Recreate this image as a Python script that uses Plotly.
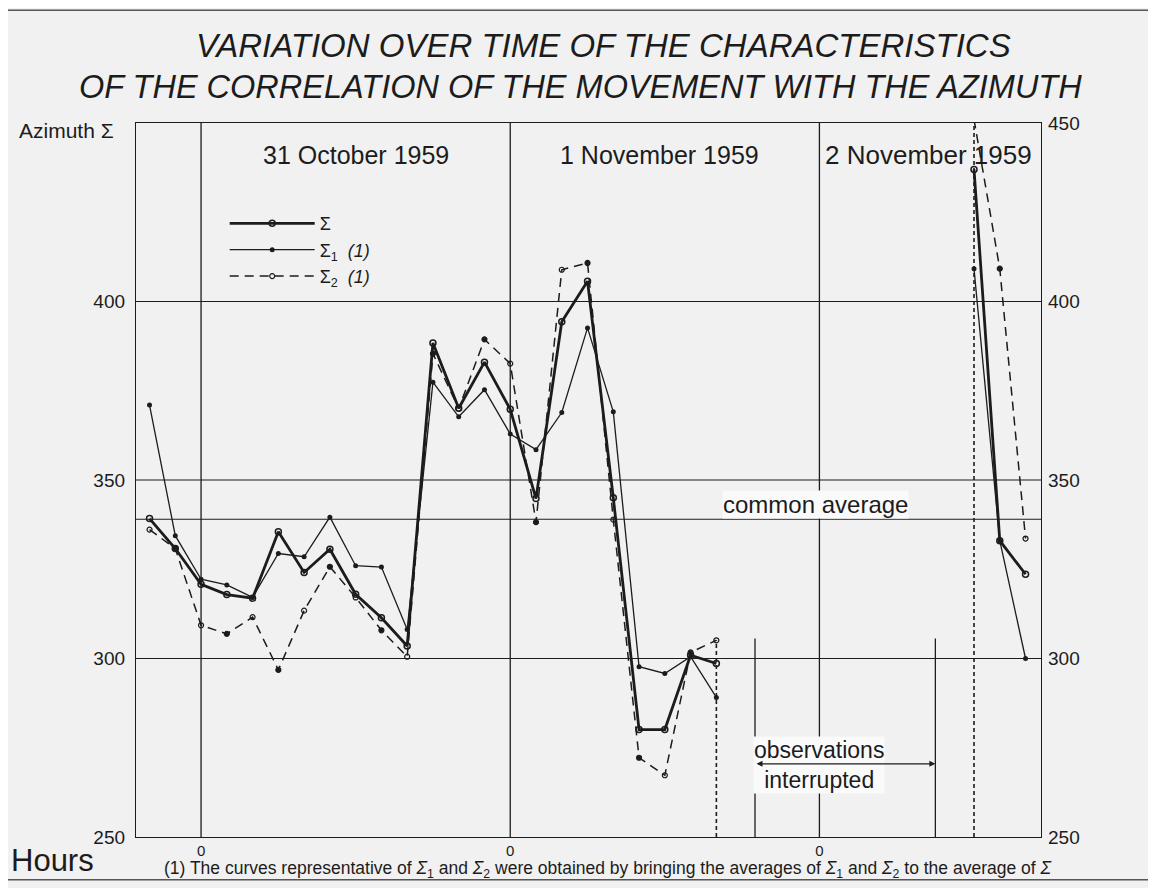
import plotly.graph_objects as go

# ---------------- data (hours from 0 h of 31 October 1959) ----------------
hours = [-4, -2, 0, 2, 4, 6, 8, 10, 12, 14, 16, 18, 20, 22, 24, 26, 28, 30, 32, 34, 36, 38, 40,
         50, 60, 62, 64]
sigma = [339.2, 330.8, 320.8, 317.9, 316.9, 335.5, 324.1, 330.6, 318.0, 311.4, 303.5,
         388.4, 370.1, 383.0, 369.8, 344.8, 394.3, 405.7, 345.0, 280.1, 280.1, 300.9, 298.6,
         None, 437.0, 333.0, 323.6]
sigma1 = [371.0, 334.4, 322.2, 320.6, 317.1, 329.4, 328.5, 339.6, 326.0, 325.6, 308.1,
          377.4, 367.7, 375.3, 362.9, 358.5, 368.9, 392.6, 369.1, 297.7, 295.8, 300.5, 289.1,
          None, 409.2, 333.0, 300.0]
sigma2 = [336.1, 330.8, 309.3, 306.9, 311.6, 296.8, 313.4, 325.7, 317.1, 307.9, 300.5,
          385.4, 370.0, 389.4, 382.6, 338.2, 408.9, 410.8, 338.9, 272.2, 267.3, 301.7, 305.1,
          None, 451.0, 409.2, 333.6]

common_average = 339
day_starts = [0, 24, 48]
day_labels = ["31 October 1959", "1 November 1959", "2 November 1959"]
hour_ticks = [0, 24, 48]
hour_tick_labels = ["0", "0", "0"]
y_left_ticks = [250, 300, 350, 400]
y_right_ticks = [250, 300, 350, 400, 450]
interrupt_start, interrupt_end = 43, 57
last_obs_day2, first_obs_day3 = 40, 60

INK = "#1c1c1c"
BG = "#f1f1f1"
FONT = "Liberation Sans, Arial, sans-serif"
NARROW = "Liberation Sans Narrow, Arial Narrow, Liberation Sans, sans-serif"

fig = go.Figure()

fig.add_trace(go.Scatter(
    x=hours, y=sigma, mode="lines+markers", name="Σ",
    line=dict(color=INK, width=2.8),
    marker=dict(symbol="circle-open", size=6, color=INK, line=dict(width=1.5)),
))
fig.add_trace(go.Scatter(
    x=hours, y=sigma1, mode="lines+markers", name="Σ<sub>1</sub>  <i>(1)</i>",
    line=dict(color=INK, width=1.3),
    marker=dict(symbol="circle", size=5, color=INK),
))
sym2 = ["circle-open" if i % 2 == 0 else "circle" for i in range(len(hours))]
fig.add_trace(go.Scatter(
    x=hours, y=sigma2, mode="lines+markers", name="Σ<sub>2</sub>  <i>(1)</i>",
    line=dict(color=INK, width=1.5, dash="9px,6px"),
    marker=dict(symbol=sym2, size=5, color=INK, line=dict(width=1.2, color=INK)),
))
# empty trace that carries the right-hand axis
fig.add_trace(go.Scatter(x=[None], y=[None], yaxis="y2", showlegend=False, hoverinfo="skip"))

shapes = []
for v in [300, 350, 400, common_average]:
    shapes.append(dict(type="line", xref="paper", x0=0, x1=1, yref="y", y0=v, y1=v,
                       line=dict(color=INK, width=1.2)))
for d in day_starts:
    shapes.append(dict(type="line", xref="x", x0=d, x1=d, yref="paper", y0=0, y1=1,
                       line=dict(color=INK, width=1.3)))
for d in [interrupt_start, interrupt_end]:
    shapes.append(dict(type="line", xref="x", x0=d, x1=d, yref="y", y0=250, y1=305.6,
                       line=dict(color=INK, width=1.3)))
shapes.append(dict(type="line", xref="x", x0=last_obs_day2, x1=last_obs_day2, yref="y",
                   y0=250, y1=305.1, line=dict(color=INK, width=1.6, dash="4px,3px")))
shapes.append(dict(type="line", xref="x", x0=first_obs_day3, x1=first_obs_day3, yref="y",
                   y0=250, y1=451, line=dict(color=INK, width=1.6, dash="4px,3px")))
# outer frame of the page
shapes.append(dict(type="rect", xref="paper", yref="paper", x0=-0.1448, x1=1.1215, y0=-0.060, y1=1.158,
                   line=dict(color="#555", width=1.5)))

annotations = []
annotations.append(dict(xref="paper", yref="paper", x=0.517, y=1.109, showarrow=False,
                        text="<i>VARIATION OVER TIME OF THE CHARACTERISTICS</i>",
                        font=dict(family=FONT, size=33, color=INK), xanchor="center", yanchor="middle"))
annotations.append(dict(xref="paper", yref="paper", x=0.491, y=1.05, showarrow=False,
                        text="<i>OF THE CORRELATION OF THE MOVEMENT WITH THE AZIMUTH</i>",
                        font=dict(family=FONT, size=32.5, color=INK), xanchor="center", yanchor="middle"))
annotations.append(dict(xref="x", yref="y", x=12, y=441, text=day_labels[0], showarrow=False,
                        font=dict(family=FONT, size=25, color=INK)))
annotations.append(dict(xref="x", yref="y", x=35.6, y=441, text=day_labels[1], showarrow=False,
                        font=dict(family=FONT, size=25, color=INK)))
annotations.append(dict(xref="x", yref="y", x=48.3, y=441, text=day_labels[2], showarrow=False,
                        xanchor="left", font=dict(family=FONT, size=26, color=INK)))
annotations.append(dict(xref="x", yref="y", x=47.7, y=343.2, text="common average", showarrow=False,
                        bgcolor="#fafafa", borderpad=0,
                        font=dict(family=FONT, size=24, color=INK)))
annotations.append(dict(xref="x", yref="y", x=48, y=270.3, text="observations<br>interrupted",
                        showarrow=False, bgcolor="#fafafa", borderpad=0,
                        font=dict(family=FONT, size=23, color=INK)))
annotations.append(dict(xref="x", yref="y", x=interrupt_end, y=270.5, ax=interrupt_start, ay=270.5,
                        axref="x", ayref="y", text="", showarrow=True, arrowside="end+start",
                        arrowhead=2, arrowsize=1, arrowwidth=1.2, arrowcolor=INK))
annotations.append(dict(xref="paper", yref="paper", x=-0.131, y=0.99, text="Azimuth Σ",
                        showarrow=False, xanchor="left", yanchor="middle",
                        font=dict(family=FONT, size=21, color=INK)))
annotations.append(dict(xref="paper", yref="paper", x=-0.140, y=-0.033, text="Hours",
                        showarrow=False, xanchor="left", yanchor="middle",
                        font=dict(family=FONT, size=31, color=INK)))
annotations.append(dict(xref="paper", yref="paper", x=0.029, y=-0.045,
                        text="(1) The curves representative of <i>Σ</i><sub>1</sub> and <i>Σ</i><sub>2</sub> were obtained by bringing the averages of <i>Σ</i><sub>1</sub> and <i>Σ</i><sub>2</sub> to the average of <i>Σ</i>",
                        showarrow=False, xanchor="left", yanchor="middle",
                        font=dict(family=NARROW, size=17.5, color=INK)))

fig.update_layout(
    width=1156, height=888,
    margin=dict(l=128, r=123, t=115, b=59),
    paper_bgcolor=BG, plot_bgcolor=BG,
    font=dict(family=FONT, color=INK),
    shapes=shapes, annotations=annotations,
    showlegend=True,
    legend=dict(x=0.098, y=0.885, xanchor="left", yanchor="top", bgcolor="rgba(0,0,0,0)",
                itemwidth=85, font=dict(family=FONT, size=18, color=INK), tracegroupgap=0),
    xaxis=dict(range=[-5.05, 65.2], tickvals=hour_ticks, ticktext=hour_tick_labels,
               showgrid=False, zeroline=False, showline=True, mirror=True, linecolor=INK,
               linewidth=1.3, ticks="", tickfont=dict(size=15, color=INK)),
    yaxis=dict(range=[250, 450], tickvals=y_left_ticks, showgrid=False, zeroline=False,
               showline=True, mirror=True, linecolor=INK, linewidth=1.3, ticks="",
               ticklabelstandoff=6, tickfont=dict(size=19, color=INK)),
    yaxis2=dict(range=[250, 450], tickvals=y_right_ticks, overlaying="y", side="right",
                showgrid=False, zeroline=False, showline=False, ticks="",
                ticklabelstandoff=6, tickfont=dict(size=19, color=INK)),
)

fig.write_html("out.html")
